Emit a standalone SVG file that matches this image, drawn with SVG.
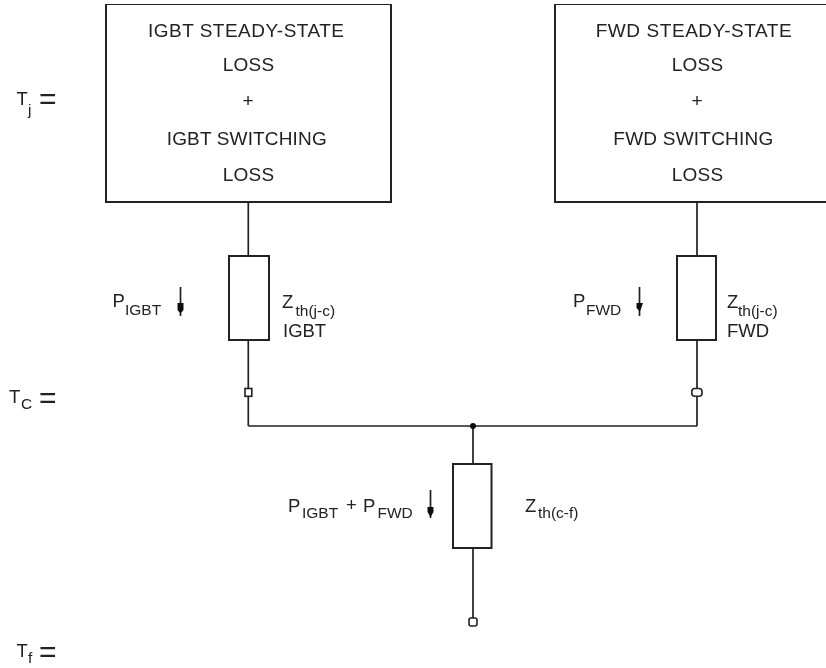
<svg xmlns="http://www.w3.org/2000/svg" width="826" height="668" viewBox="0 0 826 668">
<style>
text{font-family:"Liberation Sans",Arial,sans-serif;fill:#222;font-size:18.500px}
.m{font-size:19px}
.c{text-anchor:middle;font-size:19px}
.s{font-size:15.500px}
.e{font-size:30px}
.b{fill:#fff;stroke:#222;stroke-width:2}
.l{fill:none;stroke:#222;stroke-width:1.7}
.k{fill:#fff;stroke:#222;stroke-width:1.6}
.a{fill:#111}
</style>
<defs><filter id="soft" x="0" y="0" width="100%" height="100%"><feGaussianBlur stdDeviation="0.35"/></filter></defs>
<rect width="826" height="668" fill="#fff"/>
<g filter="url(#soft)">
<g id="connectors">
<path class="l" d="M248.300 202V256M248.300 340V426M697 202V256M697 340V426M248.300 426H697M473 426V464M473 548V618"/>
<path class="l" d="M180.500 287V316M639.500 287V316M430.500 490V518"/>
<path class="a" d="M177.500 303h6v7l-2 2.500h-2l-2-2.500zM636.500 303h6.500l-2.500 7l-1 2.500l-1-2.500l-2-2zM427.500 507h6v5l-3 5l-3-5z"/>
<circle class="a" cx="473" cy="426" r="3"/>
</g>
<g id="node-igbt-loss">
<rect class="b" x="106" y="4" width="285" height="198"/>
<text class="m" x="148" y="37" textLength="196">IGBT STEADY-STATE</text>
<text class="m" x="222.700" y="71" textLength="51.500">LOSS</text>
<text class="c" x="248" y="107">+</text>
<text class="m" x="166.700" y="145" textLength="160">IGBT SWITCHING</text>
<text class="m" x="222.700" y="181" textLength="51.500">LOSS</text>
</g>
<g id="node-fwd-loss">
<rect class="b" x="555" y="4" width="285" height="198"/>
<text class="m" x="595.700" y="37" textLength="196">FWD STEADY-STATE</text>
<text class="m" x="671.700" y="71" textLength="51.500">LOSS</text>
<text class="c" x="697" y="107">+</text>
<text class="m" x="613.300" y="145" textLength="160">FWD SWITCHING</text>
<text class="m" x="671.700" y="181" textLength="51.500">LOSS</text>
</g>
<g id="node-zth-igbt">
<rect class="b" x="229" y="256" width="40" height="84"/>
<text x="282" y="308">Z</text><text class="s" x="295.500" y="316">th(j-c)</text>
<text x="283" y="337">IGBT</text>
</g>
<g id="node-zth-fwd">
<rect class="b" x="677" y="256" width="39" height="84"/>
<text x="727" y="308">Z</text><text class="s" x="738" y="316">th(j-c)</text>
<text x="727" y="337">FWD</text>
</g>
<g id="node-zth-cf">
<rect class="b" x="453" y="464" width="38.500" height="84"/>
<text x="525" y="512">Z</text><text class="s" x="538" y="518">th(c-f)</text>
</g>
<g id="node-tc-igbt"><rect class="k" x="245" y="388.500" width="6.800" height="7.800"/></g>
<g id="node-tc-fwd"><rect class="k" x="691.800" y="388.500" width="10.200" height="7.800" rx="3"/></g>
<g id="node-tf"><rect class="k" x="469" y="618" width="8" height="8" rx="2"/></g>
<g id="label-pigbt"><text x="112.500" y="307">P</text><text class="s" x="125" y="315">IGBT</text></g>
<g id="label-pfwd"><text x="573" y="307">P</text><text class="s" x="586" y="315">FWD</text></g>
<g id="label-psum"><text x="288" y="512">P</text><text class="s" x="302" y="518">IGBT</text><text x="346" y="511">+</text><text x="363" y="512">P</text><text class="s" x="377.500" y="518">FWD</text></g>
<g id="label-tj"><text x="16.500" y="105">T</text><text class="s" x="28" y="115">j</text><text class="e" x="39" y="109">=</text></g>
<g id="label-tc"><text x="9" y="403">T</text><text class="s" x="21" y="409">C</text><text class="e" x="39" y="408">=</text></g>
<g id="label-tf"><text x="16.500" y="657">T</text><text class="s" x="28" y="663">f</text><text class="e" x="39" y="662">=</text></g>
</g>
</svg>
